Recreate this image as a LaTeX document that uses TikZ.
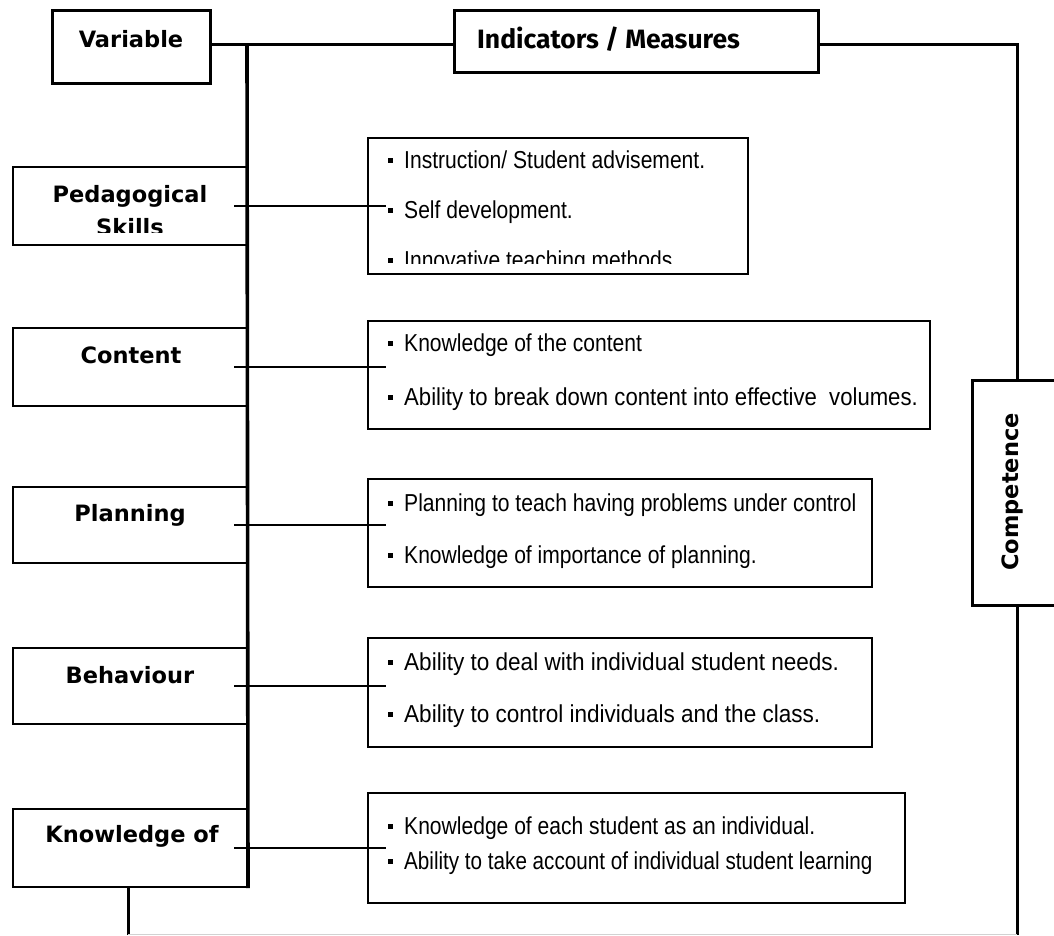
\documentclass[tikz,border=0pt]{standalone}
\usepackage{graphicx}
\usepackage{fontspec}
\newfontfamily\labfont{DejaVu Sans}
\newfontfamily\headfont{Fira Sans}
\newfontfamily\indfont[FakeStretch=0.86]{Liberation Sans}
\newcommand{\bul}{\rule[5.5pt]{5pt}{5pt}\hspace{11pt}}
\newcommand{\wider}[1]{\scalebox{1.07}[1]{#1}}
\tikzset{
  x=1pt, y=-1pt,
  thickbox/.style={draw, line width=3pt, inner sep=0pt},
  varbox/.style={draw, line width=2pt, inner sep=0pt, minimum width=234pt},
  indbox/.style={draw, line width=1.6pt, inner sep=0pt},
  lab/.style={inner sep=0pt, font=\labfont\bfseries\fontsize{22.5}{32}\selectfont},
  head/.style={inner sep=0pt, font=\headfont\bfseries\fontsize{26.5}{30}\selectfont},
  ind/.style={inner sep=0pt, anchor=base west, font=\indfont\fontsize{24.5}{30}\selectfont},
  spine/.style={line width=3.6pt},
  link/.style={line width=3pt},
  conn/.style={line width=1.6pt}
}
\begin{document}
\begin{tikzpicture}
\useasboundingbox (0,0) rectangle (1054,935);
\fill[white] (0,0) rectangle (1054,935);

% header boxes
\node[thickbox, minimum width=158pt, minimum height=73pt] (var) at (131,46.5) {};
\node[lab, anchor=base] (tvar) at (131,47) {Variable};
\node[thickbox, minimum width=364pt, minimum height=62pt] (ind) at (636,41) {};
\node[head, anchor=base west] (tind) at (477,48) {Indicators / Measures};
\node[thickbox, minimum width=98pt, minimum height=225pt] (comp) at (1021,492.5) {};
\node[lab, anchor=base, rotate=90] (tcomp) at (1018,492) {Competence};

% variable boxes
\node[varbox, minimum height=78pt] (ped) at (130,206) {};
\node[varbox, minimum height=78pt] (cont) at (130,367) {};
\node[varbox, minimum height=76pt] (plan) at (130,525) {};
\node[varbox, minimum height=76pt] (beh) at (130,686) {};
\node[varbox, minimum height=78pt] (know) at (130,848) {};

\begin{scope}
\clip (13,167) rectangle (247,232);
\node[lab, anchor=base] (tped1) at (130,202) {Pedagogical};
\node[lab, anchor=base] (tped2) at (130,235) {Skills};
\end{scope}
\node[lab, anchor=base] (tcont) at (131,363) {Content};
\node[lab, anchor=base] (tplan) at (130,521) {Planning};
\node[lab, anchor=base] (tbeh) at (130,683) {Behaviour};
\node[lab, anchor=base] (tknow) at (132,842) {Knowledge of};

% indicator boxes
\node[indbox, minimum width=380pt, minimum height=136pt] (i1) at (558,206) {};
\node[indbox, minimum width=562pt, minimum height=108pt] (i2) at (649,375) {};
\node[indbox, minimum width=504pt, minimum height=108pt] (i3) at (620,533) {};
\node[indbox, minimum width=504pt, minimum height=109pt] (i4) at (620,692.5) {};
\node[indbox, minimum width=537pt, minimum height=110pt] (i5) at (636.5,848) {};

\begin{scope}
\clip (368,138) rectangle (748,263);
\node[ind] (t11) at (388,168) {\bul Instruction/ Student advisement.};
\node[ind] (t12) at (388,218) {\bul Self development.};
\node[ind] (t13) at (388,268) {\bul Innovative teaching methods};
\end{scope}
\node[ind] (t21) at (388,351) {\bul Knowledge of the content};
\node[ind] (t22) at (388,405) {\bul \scalebox{1.05}[1]{Ability to break down content into effective\ \ volumes.}};
\node[ind] (t31) at (388,511) {\bul Planning to teach having problems under control};
\node[ind] (t32) at (388,563) {\bul Knowledge of importance of planning.};
\node[ind] (t41) at (388,670) {\bul \wider{Ability to deal with individual student needs.}};
\node[ind] (t42) at (388,722) {\bul \wider{Ability to control individuals and the class.}};
\node[ind] (t51) at (388,834) {\bul Knowledge of each student as an individual.};
\node[ind] (t52) at (388,869) {\bul \scalebox{0.98}[1]{Ability to take account of individual student learning}};

% frame lines
\coordinate (sp) at (247,44);
\coordinate (tr) at (1017,44);
\coordinate (bl) at (128,935);
\coordinate (br) at (1017,935);
\draw[link] (var.east |- sp) -- (ind.west |- sp);
\draw[link] (ind.east |- tr) -- (tr) -- (tr |- comp.north);
\draw[link] (tr |- comp.south) -- (br);
\draw[link] (bl |- know.south) -- (bl);
\draw[spine] (sp) -- (know.south east);
\draw[gray!35, line width=1pt] (128,934.5) -- (1017,934.5);

% connectors
\draw[conn] ([xshift=-14pt]ped.east) -- ([xshift=19pt]ped.east -| i1.west);
\draw[conn] ([xshift=-14pt]cont.east) -- ([xshift=19pt]cont.east -| i2.west);
\draw[conn] ([xshift=-14pt]plan.east) -- ([xshift=19pt]plan.east -| i3.west);
\draw[conn] ([xshift=-14pt]beh.east) -- ([xshift=19pt]beh.east -| i4.west);
\draw[conn] ([xshift=-14pt]know.east) -- ([xshift=19pt]know.east -| i5.west);
\end{tikzpicture}
\end{document}
